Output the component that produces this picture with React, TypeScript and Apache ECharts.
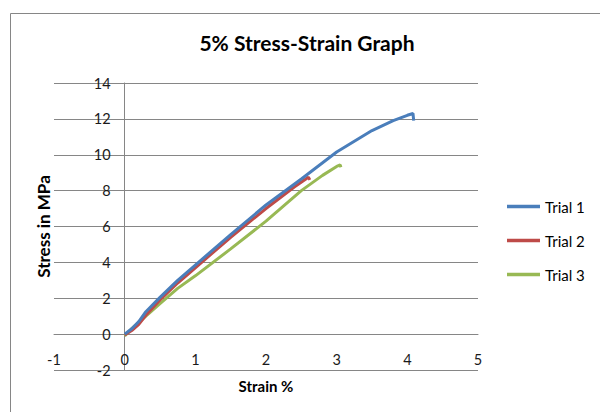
import React, { useEffect, useRef } from "react";
import * as echarts from "echarts";

const seriesNames = ["Trial 1", "Trial 2", "Trial 3"];
const seriesColors = ["#4A7EBB", "#BE4B48", "#98B954"];

const trial1: [number, number][] = [
  [0, 0], [0.1, 0.3], [0.2, 0.7], [0.3, 1.25], [0.5, 2.05], [0.75, 3.0],
  [1.0, 3.85], [1.5, 5.55], [2.0, 7.2], [2.5, 8.65], [3.0, 10.15],
  [3.5, 11.35], [3.8, 11.9], [4.0, 12.2], [4.08, 12.3], [4.09, 11.9],
];
const trial2: [number, number][] = [
  [0, -0.05], [0.1, 0.2], [0.2, 0.55], [0.3, 1.05], [0.5, 1.9], [0.75, 2.85],
  [1.0, 3.7], [1.5, 5.4], [2.0, 7.0], [2.4, 8.2], [2.6, 8.75], [2.62, 8.6],
];
const trial3: [number, number][] = [
  [0, -0.1], [0.1, 0.3], [0.2, 0.65], [0.3, 1.0], [0.5, 1.7], [0.75, 2.55],
  [1.0, 3.25], [1.5, 4.75], [2.0, 6.3], [2.5, 8.0], [2.8, 8.85], [3.0, 9.35],
  [3.05, 9.43], [3.06, 9.3],
];
const allTrials = [trial1, trial2, trial3];

const titleText = "5% Stress-Strain Graph";
const xAxisName = "Strain %";
const yAxisName = "Stress in MPa";
const xMin = -1, xMax = 5, xStep = 1;
const yMin = -2, yMax = 14, yStep = 2;

const FONT = "Lato, 'Liberation Sans', sans-serif";

const W = 600, H = 412;
const G = { left: 54, right: 122, top: 83, bottom: 42 };
// place each axis where the other axis is zero (Excel "crosses at 0")
const gridW = W - G.left - G.right;
const gridH = H - G.top - G.bottom;
const xAxisOffset = -(gridH / (yMax - yMin)) * (0 - yMin);
const yAxisOffset = -(gridW / (xMax - xMin)) * (0 - xMin);

export default function App() {
  const ref = useRef<HTMLDivElement>(null);
  useEffect(() => {
    if (!ref.current) return;
    const chart = echarts.init(ref.current, undefined, { renderer: "svg" });
    chart.setOption({
      animation: false,
      backgroundColor: "#ffffff",
      textStyle: { fontFamily: FONT },
      title: {
        text: titleText,
        left: 307,
        top: 32,
        padding: 0,
        textAlign: "center",
        textStyle: { fontFamily: FONT, fontSize: 21, fontWeight: "bold", color: "#000" },
      },
      graphic: [
        {
          type: "rect",
          shape: { x: 10.5, y: 13.5, width: 700, height: 500 },
          style: { fill: "none", stroke: "#868686", lineWidth: 1 },
          silent: true,
        },
      ],
      legend: {
        orient: "vertical",
        left: 507,
        top: 199,
        padding: 0,
        icon: "rect",
        itemWidth: 33,
        itemHeight: 3.5,
        itemGap: 19,
        textStyle: { fontFamily: FONT, fontSize: 15, color: "#000", lineHeight: 15 },
        data: seriesNames,
      },
      grid: {
        ...G,
        containLabel: false,
        outerBoundsMode: "none",
      },
      xAxis: {
        type: "value",
        min: xMin,
        max: xMax,
        interval: xStep,
        position: "bottom",
        offset: xAxisOffset,
        name: xAxisName,
        nameLocation: "middle",
        nameGap: 44,
        nameTextStyle: { fontFamily: FONT, fontSize: 15, fontWeight: "bold", color: "#000" },
        axisLine: { onZero: false, lineStyle: { color: "#868686", width: 1 } },
        axisTick: { show: false },
        splitLine: { show: false },
        axisLabel: { fontFamily: FONT, fontSize: 14.5, color: "#1a1a1a", margin: 18 },
      },
      yAxis: {
        type: "value",
        min: yMin,
        max: yMax,
        interval: yStep,
        position: "left",
        offset: yAxisOffset,
        name: yAxisName,
        nameLocation: "middle",
        nameGap: 73,
        nameRotate: 90,
        nameTextStyle: { fontFamily: FONT, fontSize: 17, fontWeight: "bold", color: "#000" },
        axisLine: { show: true, onZero: false, lineStyle: { color: "#868686", width: 1 } },
        axisTick: { show: false },
        splitLine: { show: true, lineStyle: { color: "#868686", width: 1 } },
        axisLabel: { fontFamily: FONT, fontSize: 14.5, color: "#1a1a1a", margin: 14 },
      },
      series: allTrials.map((d, i) => ({
        name: seriesNames[i],
        type: "line",
        data: d,
        showSymbol: false,
        symbol: "none",
        lineStyle: { width: 3, color: seriesColors[i] },
        itemStyle: { color: seriesColors[i] },
        z: 3 - i,
      })),
    });
    return () => chart.dispose();
  }, []);
  return (
    <div
      ref={ref}
      style={{ position: "fixed", left: 0, top: 0, width: W, height: H }}
    />
  );
}
